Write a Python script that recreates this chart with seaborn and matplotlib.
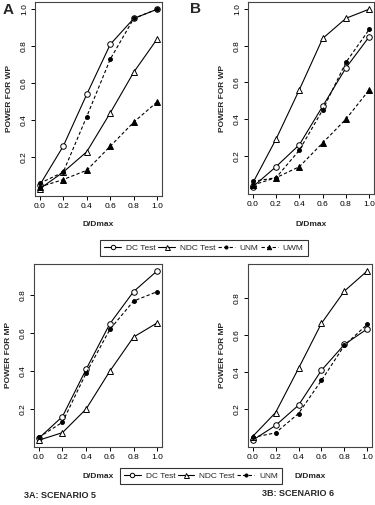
import numpy as np
import pandas as pd
import matplotlib
matplotlib.use("Agg")
import matplotlib.pyplot as plt
import seaborn as sns
from matplotlib.lines import Line2D

sns.set_style("white")
plt.rcParams['font.family'] = ['Liberation Sans', 'DejaVu Sans']

# D/Dmax values shared by every panel
d_dmax = [0.0, 0.2, 0.4, 0.6, 0.8, 1.0]

# Panel A (power for WP)
a_dc = [0.05, 0.26, 0.54, 0.81, 0.95, 1.00]
a_ndc = [0.03, 0.12, 0.23, 0.44, 0.66, 0.84]
a_unm = [0.06, 0.12, 0.42, 0.73, 0.95, 1.00]
a_uwm = [0.04, 0.08, 0.13, 0.26, 0.39, 0.50]

# Panel B (power for WP)
b_dc = [0.03, 0.14, 0.26, 0.47, 0.68, 0.85]
b_ndc = [0.05, 0.29, 0.56, 0.84, 0.95, 1.00]
b_unm = [0.06, 0.08, 0.23, 0.45, 0.71, 0.89]
b_uwm = [0.04, 0.08, 0.14, 0.27, 0.40, 0.56]

# 3A: scenario 5 (power for MP)
c_dc = [0.045, 0.16, 0.41, 0.65, 0.82, 0.93]
c_ndc = [0.035, 0.075, 0.20, 0.40, 0.58, 0.655]
c_unm = [0.05, 0.13, 0.39, 0.62, 0.77, 0.82]

# 3B: scenario 6 (power for MP)
d_dc = [0.03, 0.11, 0.22, 0.41, 0.55, 0.635]
d_ndc = [0.05, 0.18, 0.42, 0.665, 0.84, 0.95]
d_unm = [0.045, 0.07, 0.175, 0.355, 0.545, 0.66]

series_style = {
    "DC Test": dict(marker="o", mfc="white", ls="-", ms=4),
    "NDC Test": dict(marker="^", mfc="white", ls="-", ms=4.5),
    "UNM": dict(marker="o", mfc="black", ls=(0, (3, 2)), ms=2.8),
    "UWM": dict(marker="^", mfc="black", ls=(0, (3, 2)), ms=4),
}

W, H = 375, 505
fig = plt.figure(figsize=(W / 100, H / 100), dpi=100)


def add_ax(left, top, right, bottom):
    return fig.add_axes([left / W, 1 - bottom / H, (right - left) / W, (bottom - top) / H])


def draw_panel(ax, data, yticks, ylabel):
    df = pd.DataFrame({"x": d_dmax * len(data),
                       "y": np.concatenate([v for v in data.values()]),
                       "name": np.repeat(list(data.keys()), len(d_dmax))})
    for name, sub in df.groupby("name", sort=False):
        st = series_style[name]
        sns.lineplot(data=sub, x="x", y="y", ax=ax, color="black", lw=0.8,
                     linestyle=st["ls"], marker=st["marker"], markersize=st["ms"],
                     markerfacecolor=st["mfc"], markeredgecolor="black",
                     markeredgewidth=0.7, legend=False)
    lo = df["y"].min()
    hi = df["y"].max()
    r = hi - lo
    ax.set_ylim(lo - 0.04 * r, hi + 0.04 * r)
    ax.set_xlim(-0.04, 1.04)
    ax.set_xticks(d_dmax)
    ax.set_xticklabels([f"{v:.1f}" for v in d_dmax])
    ax.set_yticks(yticks)
    ax.set_yticklabels([f"{v:.1f}" for v in yticks], rotation=90, va="center")
    ax.tick_params(axis="both", direction="out", length=3, width=0.7,
                   labelsize=6, pad=2, colors="black", left=True, bottom=True)
    for s in ax.spines.values():
        s.set_color("#444444")
        s.set_linewidth(0.8)
    ax.set_xlabel("")
    ax.set_ylabel(ylabel, fontsize=6, fontweight="bold", labelpad=6)


ax_a = add_ax(35, 2, 162, 196)
draw_panel(ax_a, {"DC Test": a_dc, "NDC Test": a_ndc, "UNM": a_unm, "UWM": a_uwm},
           [0.2, 0.4, 0.6, 0.8, 1.0], "POWER FOR WP")
ax_b = add_ax(248, 2, 374, 194)
draw_panel(ax_b, {"DC Test": b_dc, "NDC Test": b_ndc, "UNM": b_unm, "UWM": b_uwm},
           [0.2, 0.4, 0.6, 0.8, 1.0], "POWER FOR WP")
ax_c = add_ax(34, 264, 162, 447)
draw_panel(ax_c, {"DC Test": c_dc, "NDC Test": c_ndc, "UNM": c_unm},
           [0.2, 0.4, 0.6, 0.8], "POWER FOR MP")
ax_d = add_ax(248, 264, 372, 447)
draw_panel(ax_d, {"DC Test": d_dc, "NDC Test": d_ndc, "UNM": d_unm},
           [0.2, 0.4, 0.6, 0.8], "POWER FOR MP")

# panel letters and x labels
fig.text(3 / W, 1 - 10 / H, "A", fontsize=11, fontweight="bold", va="center", ha="left")
fig.text(190 / W, 1 - 9 / H, "B", fontsize=11, fontweight="bold", va="center", ha="left")
for xc, yc in [(98, 225), (311, 224), (98, 476), (310, 476)]:
    fig.text(xc / W, 1 - yc / H, "D/Dmax", fontsize=6, fontweight="bold", ha="center", va="center")
fig.text(60 / W, 1 - 496 / H, "3A: SCENARIO 5", fontsize=6.5, fontweight="bold", ha="center", va="center")
fig.text(298 / W, 1 - 493 / H, "3B: SCENARIO 6", fontsize=6.5, fontweight="bold", ha="center", va="center")


def handles(names):
    out = []
    for n in names:
        st = series_style[n]
        out.append(Line2D([], [], color="black", lw=0.8, ls=st["ls"], marker=st["marker"],
                          ms=st["ms"] * 0.8, mfc=st["mfc"], mec="black", mew=0.7))
    return out


names4 = ["DC Test", "NDC Test", "UNM", "UWM"]
leg1 = fig.legend(handles(names4), names4, ncol=4, loc="center",
                  bbox_to_anchor=(204 / W, 1 - 248 / H), fontsize=6, frameon=True,
                  fancybox=False, edgecolor="black", handlelength=2.0, handletextpad=0.6,
                  columnspacing=0.3, borderpad=0.5)
leg1.get_frame().set_linewidth(0.8)
names3 = ["DC Test", "NDC Test", "UNM"]
leg2 = fig.legend(handles(names3), names3, ncol=3, loc="center",
                  bbox_to_anchor=(201 / W, 1 - 476 / H), fontsize=6, frameon=True,
                  fancybox=False, edgecolor="black", handlelength=2.0, handletextpad=0.6,
                  columnspacing=0.3, borderpad=0.5)
leg2.get_frame().set_linewidth(0.8)

fig.savefig("out.png", dpi=100)
